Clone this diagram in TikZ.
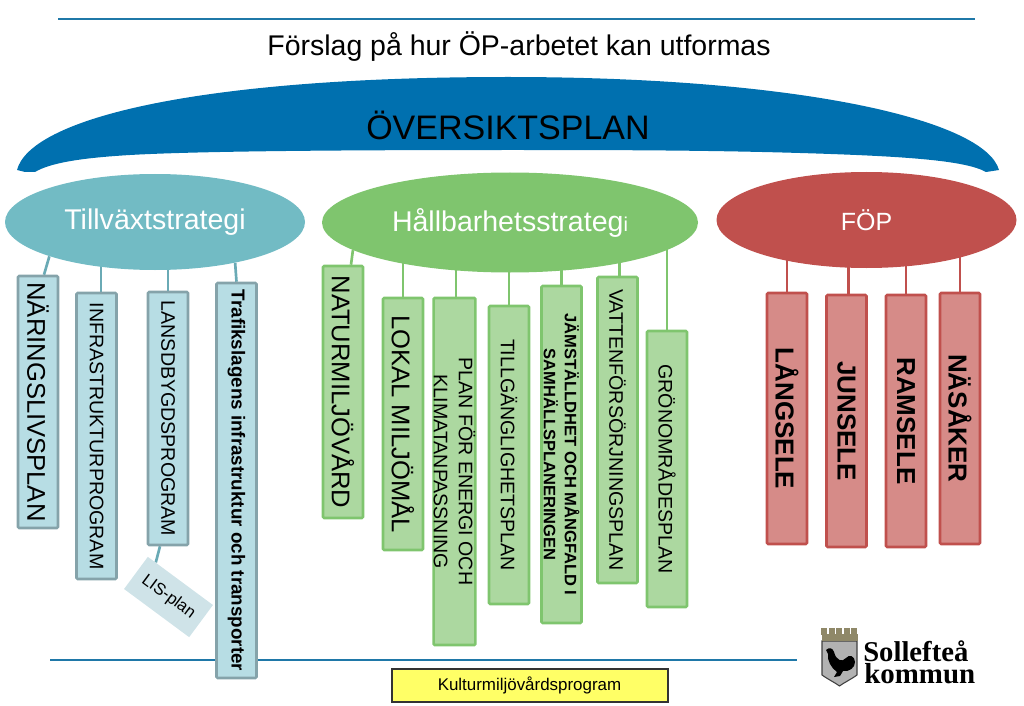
\documentclass[tikz,border=0pt]{standalone}
\usepackage{fontspec}
\setmainfont{Liberation Sans}
\newfontfamily\logofont{Liberation Serif}
\usetikzlibrary{shapes,shapes.geometric,backgrounds}
\definecolor{bluearc}{HTML}{0070AF}
\definecolor{blueline}{HTML}{1F78A8}
\definecolor{tealfill}{HTML}{72BBC4}
\definecolor{tealbox}{HTML}{B7DDE4}
\definecolor{tealedge}{HTML}{85A3AA}
\definecolor{tealline}{HTML}{6AAAB5}
\definecolor{lisfill}{HTML}{CFE3E8}
\definecolor{greenfill}{HTML}{7FC56E}
\definecolor{greenbox}{HTML}{ACD8A0}
\definecolor{redfill}{HTML}{C0504D}
\definecolor{redbox}{HTML}{D68B88}
\definecolor{crowncol}{HTML}{8F8868}
\definecolor{yellowbox}{HTML}{FFFF66}
\begin{document}
\begin{tikzpicture}[x=0.75pt,y=-0.75pt]
	\tikzstyle{strategy}=[ellipse, inner sep=0pt, text=white, font=\fontsize{21.4}{24}\selectfont]
	\tikzstyle{plan}=[rectangle, rotate=-90, align=center, inner sep=0pt, line width=1.9pt, rounded corners=0.8pt, minimum height=30pt, font=\fontsize{14.7}{18.75}\selectfont]
	\tikzstyle{bigplan}=[font=\fontsize{19.2}{22}\selectfont]
	\tikzstyle{boldplan}=[font=\bfseries\fontsize{14.1}{16}\selectfont]
	\tikzstyle{tplan}=[plan, draw=tealedge, fill=tealbox]
	\tikzstyle{gplan}=[plan, draw=greenfill, fill=greenbox]
	\tikzstyle{rplan}=[plan, draw=redfill, fill=redbox, font=\bfseries\fontsize{19.5}{22}\selectfont]
	\tikzstyle{tlink}=[draw=tealline, line width=2pt]
	\tikzstyle{glink}=[draw=greenfill, line width=2pt]
	\tikzstyle{rlink}=[draw=redfill, line width=2pt]
	\tikzstyle{rule}=[draw=blueline, line width=1.4pt]
	\useasboundingbox (0,0) rectangle (1024,706);

	\coordinate (topleft) at (58,19);
	\coordinate (topright) at (975,19);
	\coordinate (lowleft) at (50,660);
	\coordinate (lowright) at (797,660);
	\draw[rule] (topleft) -- (topright);

	\node[font=\fontsize{21.35}{24}\selectfont] (title) at (519,47) {Förslag på hur ÖP-arbetet kan utformas};

	\fill[bluearc] (17,170) .. controls (30,120) and (190,77) .. (508,77) .. controls (800,77) and (985,120) .. (999,170) -- (986,172) .. controls (965,160) and (900,156) .. (800,153) .. controls (700,150) and (600,150) .. (508,150) .. controls (350,150) and (200,151) .. (130,155) .. controls (80,158) and (50,163) .. (35,172) -- (25,172) -- cycle;
	\node[font=\fontsize{25.5}{28}\selectfont] (oversikt) at (508,125) {ÖVERSIKTSPLAN};

	\node[strategy, fill=tealfill, minimum width=225pt, minimum height=72pt] (tillvaxt) at (155,222) {Tillväxtstrategi};
	\node[strategy, fill=greenfill, minimum width=282pt, minimum height=75pt] (hallbar) at (510,222.5) {Hållbarhetsstrateg{\fontsize{15}{18}\selectfont i}};
	\node[strategy, fill=redfill, minimum width=225pt, minimum height=72pt, font=\fontsize{18.7}{22}\selectfont] (fop) at (866.5,220) {FÖP};

	\node[tplan, bigplan, minimum width=189pt] (naring) at (38,402) {NÄRINGSLIVSPLAN};
	\node[tplan, minimum width=214.5pt] (infra) at (96.5,436) {INFRASTRUKTURPROGRAM};
	\node[tplan, minimum width=189.75pt] (lands) at (168,418.5) {LANSDBYGDSPROGRAM};
	\node[tplan, boldplan, minimum width=296.25pt] (trafik) at (236.5,480.5) {Trafikslagens infrastruktur och transporter};
	\node[rectangle, rotate=-36.5, fill=lisfill, inner sep=0pt, minimum width=60.75pt, minimum height=30pt, font=\fontsize{12.5}{15}\selectfont] (lis) at (168.5,597) {LIS-plan};

	\node[gplan, bigplan, minimum width=189pt] (natur) at (343,392) {NATURMILJÖVÅRD};
	\node[gplan, bigplan, minimum width=189pt] (lokal) at (403,424) {LOKAL MILJÖMÅL};
	\node[gplan, minimum width=260.25pt] (energi) at (454.5,471.5) {PLAN FÖR ENERGI OCH\\KLIMATANPASSNING};
	\node[gplan, minimum width=223.5pt] (tillg) at (509,455) {TILLGÄNGLIGHETSPLAN};
	\node[gplan, minimum width=252.75pt, font=\bfseries\fontsize{12.4}{15.75}\selectfont] (jamst) at (561.5,454.5) {JÄMSTÄLLDHET OCH MÅNGFALD I\\SAMHÄLLSPLANERINGEN};
	\node[gplan, minimum width=229.5pt] (vatten) at (617.5,430) {VATTENFÖRSÖRJNINGSPLAN};
	\node[gplan, minimum width=207pt] (gron) at (667,469) {GRÖNOMRÅDESPLAN};

	\node[rplan, minimum width=188.25pt] (langsele) at (787,418.5) {LÅNGSELE};
	\node[rplan, minimum width=189pt] (junsele) at (846.5,421) {JUNSELE};
	\node[rplan, minimum width=189pt] (ramsele) at (906,421) {RAMSELE};
	\node[rplan, minimum width=188.25pt] (nasaker) at (960,418.5) {NÄSÅKER};

	\node[draw=black!80, fill=yellowbox, line width=1.5pt, inner sep=0pt, minimum width=207pt, minimum height=24.5pt, font=\fontsize{12.7}{15}\selectfont] (kultur) at (529.5,685.5) {Kulturmiljövårdsprogram};

	\node[inner sep=0pt, anchor=base west, font=\logofont\bfseries\fontsize{21.5}{24}\selectfont] (sollefte) at (863,661) {Sollefteå};
	\node[inner sep=0pt, anchor=base west, font=\logofont\bfseries\fontsize{21.7}{24}\selectfont] (kommun) at (864,683) {kommun};
	\filldraw[fill=black!30, draw=black!75, line width=0.8pt] (822,641) -- (857,641) -- (857,675) .. controls (850,680) and (845,682) .. (839.5,686) .. controls (834,682) and (829,680) .. (822,675) -- cycle;
	\fill[crowncol] (822,634) rectangle (858,641);
	\foreach \i in {0,...,4} {
		\fill[crowncol] (821+\i*7.6,627.5) rectangle (827+\i*7.6,635);
	}
	\fill[black] (826,650) .. controls (829,647) and (833,648) .. (834,652) .. controls (836,660) and (842,663) .. (846,658) .. controls (849,654) and (855,656) .. (855,662) .. controls (855,668) and (849,672) .. (843,671) -- (840,676) -- (834,677) -- (837,672) .. controls (831,668) and (827,660) .. (828,654) -- cycle;

	\begin{scope}[on background layer]
		\draw[rule] (lowleft) -- (lowright);
		\draw[tlink] ([xshift=4.5pt]naring.west) -- (tillvaxt.198);
		\draw[tlink] ([xshift=3.4pt]infra.west) -- ([xshift=3.4pt]infra.west |- tillvaxt);
		\draw[tlink] (lands.west) -- (lands.west |- tillvaxt);
		\draw[tlink] (trafik.west) -- (tillvaxt.-27);
		\draw[tlink] ([xshift=-6pt]lands.east) -- ([xshift=6pt,yshift=-4.5pt]lis.north west);

		\draw[glink] ([xshift=6pt]natur.west) -- (hallbar.190);
		\draw[glink] (lokal.west) -- (lokal.west |- hallbar);
		\draw[glink] ([xshift=1pt]energi.west) -- ([xshift=1pt]energi.west |- hallbar);
		\draw[glink] (tillg.west) -- (tillg.west |- hallbar);
		\draw[glink] (jamst.west) -- (jamst.west |- hallbar);
		\draw[glink] ([xshift=1.6pt]vatten.west) -- ([xshift=1.6pt]vatten.west |- hallbar);
		\draw[glink] (gron.west) -- (gron.west |- hallbar);

		\draw[rlink] (langsele.west) -- (langsele.west |- fop);
		\draw[rlink] ([xshift=1.6pt]junsele.west) -- ([xshift=1.6pt]junsele.west |- fop);
		\draw[rlink] (ramsele.west) -- (ramsele.west |- fop);
		\draw[rlink] (nasaker.west) -- (nasaker.west |- fop);
	\end{scope}
\end{tikzpicture}
\end{document}
